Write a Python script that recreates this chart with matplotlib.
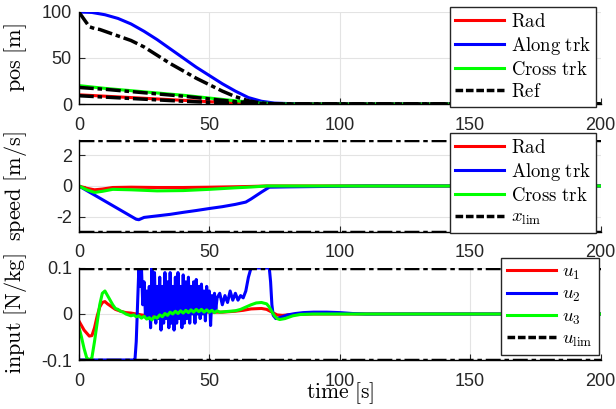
import numpy as np
import matplotlib
matplotlib.use('Agg')
import matplotlib.pyplot as plt
from matplotlib.lines import Line2D

plt.rcParams['mathtext.fontset'] = 'cm'
plt.rcParams['font.family'] = ['Liberation Sans', 'DejaVu Sans']
plt.rcParams['axes.unicode_minus'] = False

# ---- position [m] ----
t_along = [0, 5, 10, 15, 20, 25, 30, 35, 40, 45, 50, 55, 60, 65, 70, 75, 80, 90, 200]
pos_along = [100, 99.5, 97, 93, 87, 79, 70, 60, 50, 40, 31, 22, 14, 7, 3, 1, 0.5, 0, 0]
t_ref_along = [0, 2, 4, 6, 8, 10, 15, 20, 25, 30, 35, 40, 45, 50, 55, 60, 65, 70, 75, 200]
ref_along = [100, 92, 84, 82, 81, 79, 74, 69, 62, 53, 44, 36, 28, 21, 14, 8, 3.5, 1, 0, 0]
t_pos = [0, 10, 20, 30, 40, 50, 60, 70, 80, 200]
pos_cross = [20, 17, 14.5, 12, 9.5, 6.5, 3.5, 1, 0, 0]
ref_cross = [18, 16, 13.5, 11, 8.5, 5.5, 2.5, 0.5, 0, 0]
pos_rad = [10, 8.5, 7, 5.5, 4, 2.5, 1.2, 0.3, 0, 0]
ref_rad = [9, 7.5, 6, 4.5, 3, 1.8, 0.8, 0.2, 0, 0]

# ---- speed [m/s] ----
t_spd = [0, 3, 6, 9, 13, 20, 30, 40, 50, 60, 66, 72, 200]
spd_rad = [0, -0.15, -0.25, -0.2, -0.1, -0.08, -0.1, -0.1, -0.08, -0.05, -0.03, 0, 0]
spd_cross = [0, -0.25, -0.42, -0.35, -0.22, -0.25, -0.32, -0.3, -0.22, -0.12, -0.07, 0, 0]
t_spd_along = [0, 22, 23, 25, 30, 35, 40, 45, 50, 55, 60, 64, 66, 70, 73, 80, 90, 100, 110, 200]
spd_along = [0, -2.17, -2.2, -2.05, -1.95, -1.85, -1.72, -1.6, -1.47, -1.35, -1.2, -1.05,
             -0.85, -0.4, -0.08, -0.06, -0.04, -0.02, 0, 0]
x_lim = 3

# ---- input [N/kg] ----
t_u1 = [0, 2, 4, 5, 6, 7, 8, 9, 10, 11, 12, 14, 16, 18, 20, 25, 30, 35, 40, 45, 50, 55,
        60, 63, 66, 70, 72, 74, 76, 78, 82, 90, 200]
u1 = [-0.015, -0.035, -0.048, -0.047, -0.03, -0.005, 0.015, 0.025, 0.027, 0.022, 0.018,
      0.01, 0.006, 0.003, 0.002, -0.003, -0.003, 0.0, 0.003, 0.004, 0.004, 0.004,
      0.006, 0.008, 0.011, 0.012, 0.01, 0.004, -0.002, -0.003, -0.001, 0, 0]
t_u2 = [0, 20, 20.5, 21, 21.5, 22, 22.5, 23, 23.5, 24, 24.5, 25, 25.5, 26, 26.5, 27, 27.5,
        28, 28.5, 29, 29.5, 30, 30.5, 31, 31.5, 32, 32.5, 33, 33.5, 34, 34.5, 35, 35.5,
        36, 36.5, 37, 37.5, 38, 38.5, 39, 39.5, 40, 40.5, 41, 41.5, 42, 42.5, 43, 43.5,
        44, 44.5, 45, 45.5, 46, 46.5, 47, 47.5, 48, 48.5, 49, 49.5, 50, 50.5, 51, 51.5,
        52, 52.5, 53, 54, 55, 56, 57, 58, 59, 60, 61, 62, 63, 64, 65, 66, 73, 73.5, 74,
        74.5, 75.5, 77, 80, 83, 86, 90, 95, 100, 105, 110, 200]
u2 = [-0.1, -0.1, -0.1, -0.1, -0.1, -0.06, 0.02, 0.1, 0.06, 0.1, 0.02, 0.07, 0.0, 0.05,
      -0.01, 0.06, -0.03, 0.1, 0.0, 0.09, -0.02, 0.06, -0.01, 0.08, -0.035, 0.06, -0.02,
      0.09, -0.01, 0.07, -0.03, 0.09, -0.02, 0.06, -0.035, 0.08, -0.02, 0.09, -0.01,
      0.06, -0.03, 0.085, -0.02, 0.07, -0.01, 0.08, -0.02, 0.06, 0.0, 0.07, -0.02, 0.075,
      0.0, 0.06, -0.01, 0.065, 0.0, 0.05, -0.015, 0.06, 0.005, 0.05, -0.025, 0.04, 0.005,
      0.045, 0.01, 0.035, 0.045, 0.02, 0.04, 0.025, 0.05, 0.03, 0.045, 0.03, 0.04, 0.035,
      0.05, 0.08, 0.1, 0.1, 0.07, 0.02, -0.003, -0.01, -0.008, -0.002, 0.001, 0.003,
      0.004, 0.004, 0.003, 0.001, 0, 0]
t_u3 = [0, 1, 2, 3, 4, 5, 6, 7, 8, 9, 10, 11, 12, 13, 14, 15, 16, 17, 18, 19, 20, 21, 22,
        23, 24, 25, 26, 27, 28, 29, 30, 31, 32, 33, 34, 35, 36, 37, 38, 39, 40, 41, 42,
        43, 44, 45, 46, 47, 48, 49, 50, 51, 52, 53, 54, 56, 58, 60, 62, 64, 66, 68, 70,
        72, 73, 74, 75, 76, 77, 79, 82, 85, 90, 200]
u3 = [-0.028, -0.05, -0.075, -0.095, -0.1, -0.095, -0.06, -0.02, 0.02, 0.045, 0.05, 0.04,
      0.03, 0.02, 0.012, 0.01, 0.006, 0.004, 0.0, -0.002, -0.004, -0.002, -0.006, -0.004,
      -0.009, -0.005, -0.011, -0.008, -0.013, -0.006, -0.009, -0.002, -0.006, 0.001,
      -0.003, 0.004, 0.0, 0.006, 0.001, 0.007, 0.002, 0.008, 0.003, 0.009, 0.004, 0.01,
      0.005, 0.01, 0.004, 0.009, 0.004, 0.008, 0.003, 0.007, 0.004, 0.005, 0.006, 0.007,
      0.01, 0.015, 0.02, 0.024, 0.025, 0.022, 0.015, 0.005, -0.004, -0.01, -0.012, -0.01,
      -0.004, -0.001, 0, 0]
u_lim = 0.1

xticks = [0, 50, 100, 150, 200]

RED, BLUE, GREEN = '#ff0000', '#0000ff', '#00ff00'
LW = 2.2
DASH = (0, (4.3, 1.1, 1.3, 1.1))

fig = plt.figure(figsize=(6.16, 4.09), dpi=100)
L, W, H = 0.128, 0.847, 0.225
ax1 = fig.add_axes([L, 0.7457, W, H])
ax2 = fig.add_axes([L, 0.4328, W, H])
ax3 = fig.add_axes([L, 0.1198, W, H])


def style(ax, yticks, ytl):
    ax.set_xlim(0, 200)
    ax.set_xticks(xticks)
    ax.set_yticks(yticks)
    ax.set_yticklabels(ytl)
    ax.grid(True, color='#e3e3e3', lw=0.8)
    ax.set_axisbelow(True)
    for s in ['top', 'right']:
        ax.spines[s].set_visible(False)
    for s in ['left', 'bottom']:
        ax.spines[s].set_linewidth(1.0)
    ax.tick_params(direction='in', labelsize=13, length=4, colors='#262626',
                   labelcolor='#262626')
    ax.tick_params(axis='x', pad=9)
    ax.tick_params(axis='y', pad=5)


def legend(ax, handles, labels, anchor):
    leg = ax.legend(handles, labels, loc='upper right', bbox_to_anchor=anchor,
                    borderaxespad=0, fontsize=13.5, handlelength=2.6, handletextpad=0.35,
                    labelspacing=0.22, borderpad=0.3, fancybox=False, framealpha=1,
                    edgecolor='#262626')
    leg.get_frame().set_linewidth(1.0)
    return leg


# position
ax1.plot(t_pos, pos_rad, color=RED, lw=LW)
ax1.plot(t_along, pos_along, color=BLUE, lw=LW)
ax1.plot(t_pos, pos_cross, color=GREEN, lw=LW)
ax1.plot(t_pos, ref_rad, color='k', lw=2.5, ls=DASH)
ax1.plot(t_ref_along, ref_along, color='k', lw=2.5, ls=DASH)
ax1.plot(t_pos, ref_cross, color='k', lw=2.5, ls=DASH)
ax1.set_ylim(0, 100)
style(ax1, [0, 50, 100], ['0', '50', '100'])
ax1.set_ylabel(r'$\mathrm{pos\ [m]}$', fontsize=16)
h = [Line2D([], [], color=RED, lw=LW), Line2D([], [], color=BLUE, lw=LW),
     Line2D([], [], color=GREEN, lw=LW), Line2D([], [], color='k', lw=2.5, ls=(0, (2.2, 0.8)))]
legend(ax1, h, [r'$\mathrm{Rad}$', r'$\mathrm{Along\ trk}$', r'$\mathrm{Cross\ trk}$',
                r'$\mathrm{Ref}$'], (0.992, 1.054))

# speed
ax2.plot(t_spd, spd_rad, color=RED, lw=LW)
ax2.plot(t_spd_along, spd_along, color=BLUE, lw=LW)
ax2.plot(t_spd, spd_cross, color=GREEN, lw=LW)
ax2.axhline(x_lim, color='k', lw=2.5, ls=DASH)
ax2.axhline(-x_lim, color='k', lw=2.5, ls=DASH)
ax2.set_ylim(-3, 3)
style(ax2, [-2, 0, 2], ['-2', '0', '2'])
ax2.set_ylabel(r'$\mathrm{speed\ [m/s]}$', fontsize=16)
h = h[:3] + [Line2D([], [], color='k', lw=2.5, ls=(0, (2.2, 0.8)))]
legend(ax2, h, [r'$\mathrm{Rad}$', r'$\mathrm{Along\ trk}$', r'$\mathrm{Cross\ trk}$',
                r'$x_{\mathrm{lim}}$'], (0.992, 1.076))

# input
ax3.plot(t_u1, u1, color=RED, lw=LW)
ax3.plot(t_u2, u2, color=BLUE, lw=LW)
ax3.plot(t_u3, u3, color=GREEN, lw=LW)
ax3.axhline(u_lim, color='k', lw=2.5, ls=DASH)
ax3.axhline(-u_lim, color='k', lw=2.5, ls=DASH)
ax3.set_ylim(-0.1, 0.1)
style(ax3, [-0.1, 0, 0.1], ['-0.1', '0', '0.1'])
ax3.set_ylabel(r'$\mathrm{input\ [N/kg]}$', fontsize=16)
ax3.set_xlabel(r'$\mathrm{time\ [s]}$', fontsize=15.5)
ax3.xaxis.set_label_coords(0.5, -0.225)
legend(ax3, h, [r'$u_1$', r'$u_2$', r'$u_3$', r'$u_{\mathrm{lim}}$'], (0.996, 1.109))

for ax in (ax1, ax2, ax3):
    ax.yaxis.set_label_coords(-0.095, 0.5)

fig.savefig('out.png', dpi=100)
